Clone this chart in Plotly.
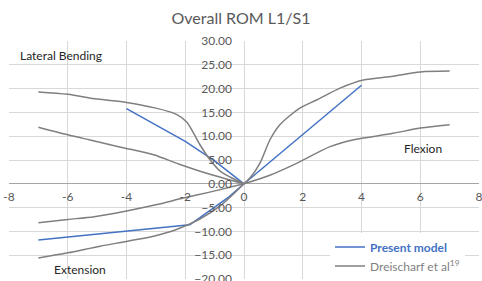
import plotly.graph_objects as go

# ---- Data ----
# Present model
pm_lat_x = [-4, -2, -1, 0]
pm_lat_y = [15.8, 8.9, 4.8, 0]
pm_flex_x = [0, 4]
pm_flex_y = [0, 20.7]
pm_ext_x = [0, -0.5, -1.2, -1.85, -7]
pm_ext_y = [0, -2.7, -5.8, -8.6, -11.8]

# Dreischarf et al (19)
dr_lb_outer_x = [0, -0.8, -1.15, -1.5, -1.95, -2.3, -3, -4, -5, -6, -7]
dr_lb_outer_y = [0, 2.6, 5.0, 8.2, 13.0, 14.6, 15.9, 17.1, 17.8, 18.8, 19.3]
dr_lb_inner_x = [0, -1.27, -2.2, -3.08, -4.2, -5.24, -6, -7]
dr_lb_inner_y = [0, 2.2, 4.1, 6.1, 7.7, 9.2, 10.3, 11.9]
dr_fl_outer_x = [0, 0.2, 0.54, 0.88, 1.22, 1.9, 2.47, 3.27, 4.06, 5.08, 6, 7]
dr_fl_outer_y = [0, 1.2, 4.3, 9.2, 12.4, 15.9, 17.6, 20.1, 21.8, 22.6, 23.5, 23.7]
dr_fl_inner_x = [0, 0.88, 1.79, 2.93, 3.7, 5.07, 6, 7]
dr_fl_inner_y = [0, 1.8, 4.3, 7.8, 9.2, 10.6, 11.7, 12.4]
dr_ex_inner_x = [0, -1.2, -2.06, -3, -4, -5.1, -6, -7]
dr_ex_inner_y = [0, -1.8, -3.0, -4.4, -5.7, -6.9, -7.5, -8.2]
dr_ex_outer_x = [0, -0.8, -1.5, -2.3, -3.08, -4, -4.9, -6, -7]
dr_ex_outer_y = [0, -4.6, -7.4, -9.6, -11.0, -12.1, -13.1, -14.5, -15.6]

x_ticks = [-8, -6, -4, -2, 0, 2, 4, 6, 8]
y_ticks = [-20, -15, -10, -5, 0, 5, 10, 15, 20, 25, 30]

BLUE = "#4472C4"
GRAY = "#7F7F7F"
FONT = "Lato, Liberation Sans, sans-serif"

fig = go.Figure()

pm_sets = [(pm_lat_x, pm_lat_y), (pm_flex_x, pm_flex_y), (pm_ext_x, pm_ext_y)]
for i, (xs, ys) in enumerate(pm_sets):
    fig.add_trace(go.Scatter(
        x=xs, y=ys, mode="lines",
        line=dict(color=BLUE, width=1.5),
        name="<b><span style='color:#4472C4'>Present model</span></b>",
        legendgroup="pm", showlegend=(i == 0)))

dr_sets = [(dr_lb_outer_x, dr_lb_outer_y), (dr_lb_inner_x, dr_lb_inner_y),
           (dr_fl_outer_x, dr_fl_outer_y), (dr_fl_inner_x, dr_fl_inner_y),
           (dr_ex_inner_x, dr_ex_inner_y), (dr_ex_outer_x, dr_ex_outer_y)]
for i, (xs, ys) in enumerate(dr_sets):
    fig.add_trace(go.Scatter(
        x=xs, y=ys, mode="lines",
        line=dict(color=GRAY, width=1.5, shape="spline", smoothing=0.8),
        name="<span style='color:#7F7F7F'>Dreischarf et al<sup>19</sup></span>",
        legendgroup="dr", showlegend=(i == 0)))

fig.update_layout(
    width=482, height=281,
    margin=dict(l=9, r=3, t=41, b=2, autoexpand=False),
    paper_bgcolor="white", plot_bgcolor="white",
    font=dict(family=FONT, size=12, color="#595959"),
    title=dict(text="Overall ROM L1/S1", x=0.5, xanchor="center",
               y=1 - 18 / 281, yanchor="middle", yref="container",
               font=dict(family=FONT, size=16, color="#595959")),
    showlegend=True,
    legend=dict(x=0.683, y=0.195, xanchor="left", yanchor="top",
                bgcolor="white", font=dict(family=FONT, size=12),
                tracegroupgap=0, itemwidth=30),
    xaxis=dict(range=[-8, 8], tickvals=x_ticks, ticktext=[str(v) for v in x_ticks],
               showgrid=True, gridcolor="#D9D9D9", gridwidth=1,
               zeroline=True, zerolinecolor="#D9D9D9", zerolinewidth=1,
               showline=False, ticks="", anchor="free", position=0.4,
               ticklabelstandoff=4, automargin=False, ticklabeloverflow="allow",
               tickfont=dict(family=FONT, size=12, color="#595959")),
    yaxis=dict(range=[-20, 30], tickvals=y_ticks, tickformat=".2f",
               showgrid=True, gridcolor="#D9D9D9", gridwidth=1,
               zeroline=True, zerolinecolor="#A6A6A6", zerolinewidth=1,
               showline=False, ticks="", anchor="free", position=0.5,
               ticklabelstandoff=12, automargin=False, ticklabeloverflow="allow",
               tickfont=dict(family=FONT, size=12, color="#595959")),
    annotations=[
        dict(text="Lateral Bending", x=0.019, y=0.941, xref="paper", yref="paper",
             xanchor="left", yanchor="middle", showarrow=False,
             font=dict(family=FONT, size=12, color="#262626")),
        dict(text="Flexion", x=0.836, y=0.55, xref="paper", yref="paper",
             xanchor="left", yanchor="middle", showarrow=False,
             font=dict(family=FONT, size=12, color="#262626")),
        dict(text="Extension", x=0.0915, y=0.039, xref="paper", yref="paper",
             xanchor="left", yanchor="middle", showarrow=False,
             font=dict(family=FONT, size=12, color="#262626")),
    ],
)

fig.write_html(
    "out.html",
    config={"displayModeBar": False},
    post_script="document.body.style.margin='0';document.body.style.overflow='hidden';",
)
